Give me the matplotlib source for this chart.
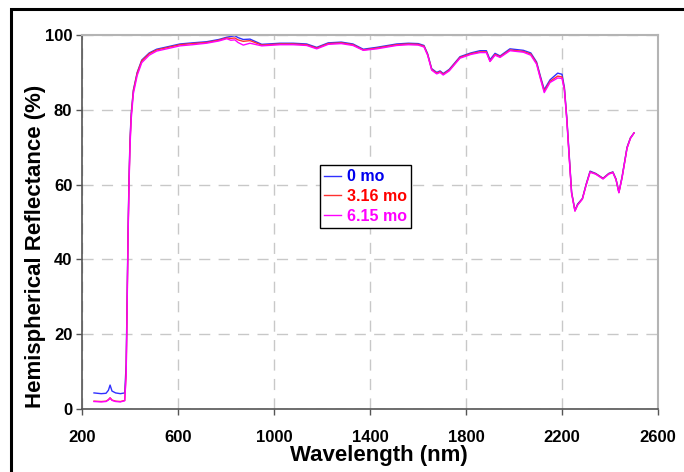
import matplotlib.pyplot as plt
from matplotlib.patches import Rectangle

plt.rcParams['font.family'] = ['Liberation Sans', 'DejaVu Sans']

wavelength = [250, 280, 300, 310, 317, 325, 340, 360, 378, 384, 388, 392, 396, 400, 405,
              414, 430, 449, 480, 511, 560, 608, 660, 719, 770, 803, 820, 837, 850, 872,
              900, 949, 1025, 1080, 1136, 1178, 1226, 1280, 1329, 1372, 1428, 1511, 1560,
              1601, 1625, 1640, 1657, 1678, 1692, 1705, 1730, 1775, 1820, 1858, 1885, 1900,
              1921, 1942, 1983, 2039, 2070, 2094, 2110, 2126, 2150, 2182, 2200, 2210, 2220,
              2230, 2240, 2254, 2265, 2285, 2300, 2317, 2340, 2371, 2395, 2412, 2425, 2437,
              2450, 2471, 2485, 2500]

refl_0mo = [4.3, 4.1, 4.2, 5.0, 6.4, 4.8, 4.3, 4.1, 4.3, 12, 30, 48, 62, 72, 79,
            85.3, 90.0, 93.3, 95.2, 96.2, 96.9, 97.6, 97.9, 98.2, 98.8, 99.4, 99.6, 99.8, 99.3, 98.8,
            98.9, 97.5, 97.8, 97.8, 97.6, 96.7, 97.9, 98.1, 97.6, 96.2, 96.7, 97.6, 97.8,
            97.7, 97.2, 95.0, 91.0, 90.0, 90.4, 89.7, 90.8, 94.2, 95.2, 95.8, 95.8, 93.4,
            95.1, 94.4, 96.3, 95.9, 95.2, 92.8, 89.0, 85.4, 88.0, 89.8, 89.5, 86.0, 78.0,
            68.0, 58.0, 53.1, 54.8, 56.3, 60.0, 63.6, 63.0, 61.7, 63.0, 63.4, 61.5, 58.0,
            62.0, 70.0, 72.5, 73.8]

refl_316mo = [2.1, 2.0, 2.1, 2.5, 3.0, 2.4, 2.1, 2.0, 2.3, 10, 28, 47, 61, 71, 78.5,
              85.0, 89.8, 93.1, 95.0, 96.0, 96.7, 97.4, 97.7, 98.0, 98.6, 99.2, 99.1, 99.2, 98.7, 98.3,
              98.5, 97.3, 97.6, 97.6, 97.4, 96.5, 97.7, 97.9, 97.4, 96.0, 96.5, 97.4, 97.6,
              97.5, 97.0, 94.8, 90.8, 89.8, 90.2, 89.5, 90.6, 94.0, 95.0, 95.5, 95.5, 93.0,
              94.8, 94.2, 96.0, 95.6, 94.9, 92.5, 88.6, 85.0, 87.6, 89.0, 88.8, 85.5, 77.5,
              67.5, 57.8, 53.0, 54.6, 56.2, 59.8, 63.4, 62.9, 61.6, 62.9, 63.3, 61.4, 57.9,
              61.8, 69.8, 72.4, 73.8]

refl_615mo = [2.0, 1.9, 2.0, 2.4, 2.9, 2.3, 2.0, 1.9, 2.2, 9, 27, 46, 60, 70, 77.5,
              84.3, 89.2, 92.6, 94.6, 95.7, 96.4, 97.1, 97.4, 97.8, 98.4, 99.0, 98.6, 98.7, 98.0, 97.3,
              97.8, 97.1, 97.4, 97.4, 97.2, 96.3, 97.5, 97.7, 97.2, 95.9, 96.3, 97.2, 97.4,
              97.3, 96.8, 94.6, 90.6, 89.6, 90.0, 89.3, 90.4, 93.8, 94.8, 95.3, 95.3, 92.9,
              94.6, 94.0, 95.8, 95.4, 94.6, 92.2, 88.3, 84.6, 87.3, 88.5, 88.4, 85.2, 77.2,
              67.2, 57.6, 52.9, 54.5, 56.1, 59.7, 63.3, 62.8, 61.5, 62.8, 63.2, 61.3, 57.8,
              61.7, 69.7, 72.3, 73.8]

labels = ["0 mo", "3.16 mo", "6.15 mo"]
colors = ["#3030ff", "#ff3030", "#ff00ff"]
text_colors = ["#0000ee", "#ff0000", "#ff00ff"]

fig = plt.figure(figsize=(6.84, 4.72), dpi=100)
ax = fig.add_axes([82/684, 1 - 409/472, 576/684, 374/472])

for y, lab, c in zip([refl_0mo, refl_316mo, refl_615mo], labels, colors):
    ax.plot(wavelength, y, color=c, lw=1.0, label=lab)

ax.set_xlim(200, 2600)
ax.set_ylim(0, 100)
ax.set_xticks(range(200, 2601, 400))
ax.set_yticks(range(0, 101, 20))
ax.grid(True, color="#c8c8c8", lw=1, linestyle=(0, (8, 6)))
ax.set_axisbelow(True)

for s in ["left", "bottom"]:
    ax.spines[s].set_color("#555555")
    ax.spines[s].set_linewidth(1.2)
for s in ["top", "right"]:
    ax.spines[s].set_color("#b4b4b4")
    ax.spines[s].set_linewidth(1.5)

ax.tick_params(direction="out", length=4, width=1, color="#555555",
               labelsize=12, pad=3, top=False, right=False)
for t in ax.get_xticklabels() + ax.get_yticklabels():
    t.set_fontweight("bold")
ax.tick_params(axis="x", pad=11)

ax.set_xlabel("Wavelength (nm)", fontsize=16, fontweight="bold")
ax.set_ylabel("Hemispherical Reflectance (%)", fontsize=16, fontweight="bold")
ax.xaxis.set_label_coords(0.516, -0.097)
ax.yaxis.set_label_coords(-0.062, 0.436)

leg = ax.legend(loc="upper left", bbox_to_anchor=(0.413, 0.652), fancybox=False,
                edgecolor="black", framealpha=1, handlelength=1.1, handletextpad=0.35,
                borderpad=0.25, labelspacing=0.3, borderaxespad=0,
                prop={"weight": "bold", "size": 11.5})
leg.get_frame().set_linewidth(1.0)
for t, c in zip(leg.get_texts(), text_colors):
    t.set_color(c)

# outer black frame, open at right and bottom like the original
fig.patches.append(Rectangle((11/684, -0.1), 1.2, 1 - 9/472 + 0.1, transform=fig.transFigure,
                             fill=False, edgecolor="black", lw=2.2))

fig.savefig("out.png", dpi=100)
